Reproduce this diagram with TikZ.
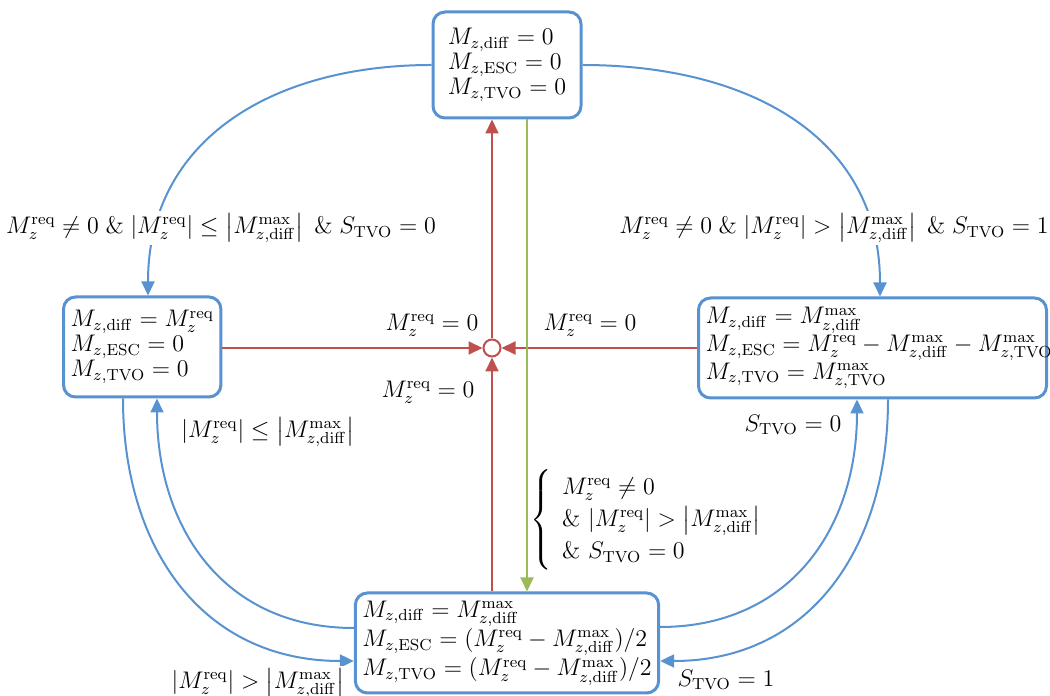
\documentclass[tikz,border=0pt]{standalone}
\usepackage{amsmath}
\usetikzlibrary{arrows.meta}
\definecolor{myblue}{RGB}{88,146,208}
\definecolor{myred}{RGB}{192,80,77}
\definecolor{mygreen}{RGB}{155,187,89}

\begin{document}
\begin{tikzpicture}[x=0.5pt,y=0.5pt]
	\tikzstyle{mybox}=[draw=myblue, line width=1.5pt, rounded corners=6pt, align=left, inner xsep=3.5pt, inner ysep=3pt, minimum height=50pt, fill=white, font=\fontsize{12}{11.5}\selectfont]
	\tikzstyle{myarrow}=[-{Triangle[length=7pt,width=6.5pt]}, line width=1pt]
	\tikzstyle{mydesc}=[fill=white, inner sep=1pt, font=\fontsize{12}{14}\selectfont]

	\useasboundingbox (0,0) rectangle (1050,696);

	\node[mybox, minimum width=74pt, minimum height=53pt] (zero) at (507,631) {$M_{z,\mathrm{diff}} = 0$\\ $M_{z,\mathrm{ESC}} = 0$\\ $M_{z,\mathrm{TVO}} = 0$};
	\node[mybox, anchor=west] (diffonly) at (62,349) {$M_{z,\mathrm{diff}} = M_z^{\mathrm{req}}$\\ $M_{z,\mathrm{ESC}} = 0$\\ $M_{z,\mathrm{TVO}} = 0$};
	% text runs over the right border, as in the original
	\node[mybox, anchor=west, text width=167pt] (tvomode) at (697,348) {\mbox{$M_{z,\mathrm{diff}} = M_{z,\mathrm{diff}}^{\max}$}\\ \mbox{$M_{z,\mathrm{ESC}} = M_z^{\mathrm{req}} - M_{z,\mathrm{diff}}^{\max} - M_{z,\mathrm{TVO}}^{\max}$}\\ \mbox{$M_{z,\mathrm{TVO}} = M_{z,\mathrm{TVO}}^{\max}$}};
	\node[mybox] (escmode) at (507,53) {$M_{z,\mathrm{diff}} = M_{z,\mathrm{diff}}^{\max}$\\ $M_{z,\mathrm{ESC}} = (M_z^{\mathrm{req}} - M_{z,\mathrm{diff}}^{\max})/2$\\ $M_{z,\mathrm{TVO}} = (M_z^{\mathrm{req}} - M_{z,\mathrm{diff}}^{\max})/2$};

	\node[circle, draw=myred, line width=1pt, fill=white, minimum size=8.5pt, inner sep=0pt] (hub) at (492,348) {};

	% back to zero torque
	\draw[myarrow, myred] (hub.north) -- (hub |- zero.south);
	\draw[myarrow, myred] (hub |- escmode.north) -- (hub.south);
	\draw[myarrow, myred] (diffonly.east |- hub) -- (hub.west);
	\draw[myarrow, myred] (tvomode.west |- hub) -- (hub.east);

	\draw[myarrow, mygreen] ([xshift=10pt]zero.south) -- ([xshift=10pt]zero.south |- escmode.north);

	% outer ring
	\draw[myarrow, myblue] (zero.west) to[out=180, in=90, looseness=1.1] ([xshift=43pt]diffonly.north west);
	\draw[myarrow, myblue] (zero.east) to[out=0, in=90, looseness=1.1] ([xshift=91.5pt]tvomode.north west);
	\draw[myarrow, myblue] ([xshift=30.5pt]diffonly.south west) to[out=-90, in=180, looseness=1.1] ([yshift=-9pt]escmode.west);
	\draw[myarrow, myblue] ([yshift=7.5pt]escmode.west) to[out=180, in=-90, looseness=1.1] ([xshift=47.5pt]diffonly.south west);
	\draw[myarrow, myblue] ([yshift=8pt]escmode.east) to[out=0, in=-90, looseness=1.1] ([xshift=80pt]tvomode.south west);
	\draw[myarrow, myblue] ([xshift=95.5pt]tvomode.south west) to[out=-90, in=0, looseness=1.1] ([yshift=-9pt]escmode.east);

	\node[mydesc] (zerotodiff) at (221,468) {$M_z^{\mathrm{req}} \neq 0 \;\&\; |M_z^{\mathrm{req}}| \leq \left|M_{z,\mathrm{diff}}^{\max}\right| \;\&\; S_{\mathrm{TVO}} = 0$};
	\node[mydesc] (zerototvo) at (834,468) {$M_z^{\mathrm{req}} \neq 0 \;\&\; |M_z^{\mathrm{req}}| > \left|M_{z,\mathrm{diff}}^{\max}\right| \;\&\; S_{\mathrm{TVO}} = 1$};
	\node[mydesc] (reqleft) at (432,371) {$M_z^{\mathrm{req}} = 0$};
	\node[mydesc] (reqright) at (590,371) {$M_z^{\mathrm{req}} = 0$};
	\node[mydesc] (reqbottom) at (428,304) {$M_z^{\mathrm{req}} = 0$};
	\node[mydesc] (esctodiff) at (268,264) {$|M_z^{\mathrm{req}}| \leq \left|M_{z,\mathrm{diff}}^{\max}\right|$};
	\node[mydesc] (difftoesc) at (258,13) {$|M_z^{\mathrm{req}}| > \left|M_{z,\mathrm{diff}}^{\max}\right|$};
	\node[mydesc] (esctotvo) at (793,271) {$S_{\mathrm{TVO}} = 0$};
	\node[mydesc] (tvotoesc) at (726,16) {$S_{\mathrm{TVO}} = 1$};
	\node[mydesc, fill=none] (zerotoesc) at (652,176) {$\renewcommand{\arraystretch}{1.15}\left\{\begin{array}{l} M_z^{\mathrm{req}} \neq 0\\ \&\ |M_z^{\mathrm{req}}| > \left|M_{z,\mathrm{diff}}^{\max}\right|\\ \&\ S_{\mathrm{TVO}} = 0\end{array}\right.$};
\end{tikzpicture}
\end{document}
